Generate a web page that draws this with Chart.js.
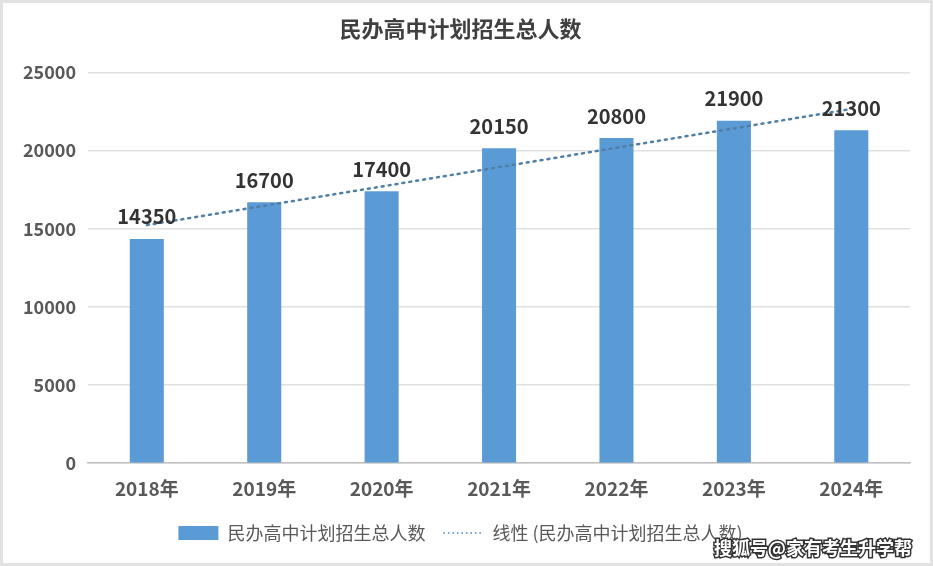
<!DOCTYPE html>
<html>
<head>
<meta charset="utf-8">
<script src="https://cdn.jsdelivr.net/npm/chart.js@4/dist/chart.umd.min.js"></script>
<style>
  html, body { margin: 0; padding: 0; background: #fff; }
  #wrap { width: 933px; height: 566px; box-sizing: border-box; border: 3px solid #e2e2e2; position: relative; }
  canvas { display: block; }
</style>
</head>
<body>
<div id="wrap"><canvas id="myChart" width="927" height="560"></canvas></div>
<script>
const years = ['2018年', '2019年', '2020年', '2021年', '2022年', '2023年', '2024年'];
const enrolment = [14350, 16700, 17400, 20150, 20800, 21900, 21300];
// dotted trend line
const trend = [15230, 16470, 17700, 18940, 20180, 21420, 22660];

const FONT = '"Noto Sans CJK SC", "Noto Sans", sans-serif';

// values above the bars + watermark
const barLabels = {
  id: 'barLabels',
  afterDatasetsDraw(chart) {
    const ctx = chart.ctx;
    const meta = chart.getDatasetMeta(0);
    ctx.save();
    ctx.font = 'bold 20px ' + FONT;
    ctx.fillStyle = '#333';
    ctx.textAlign = 'center';
    ctx.textBaseline = 'bottom';
    meta.data.forEach(function (bar, i) {
      ctx.fillText(enrolment[i], bar.x, bar.y - 12);
    });
    ctx.restore();
  },
  afterDraw(chart) {
    const ctx = chart.ctx;
    ctx.save();
    ctx.font = 'bold 18px ' + FONT;
    ctx.textAlign = 'right';
    ctx.textBaseline = 'middle';
    ctx.lineWidth = 3;
    ctx.strokeStyle = '#333';
    ctx.strokeText('搜狐号@家有考生升学帮', chart.width - 18, chart.height - 15);
    ctx.fillStyle = '#fff';
    ctx.fillText('搜狐号@家有考生升学帮', chart.width - 18, chart.height - 15);
    ctx.restore();
  }
};

const data = {
  labels: years,
  datasets: [
    {
      type: 'bar',
      label: '民办高中计划招生总人数',
      data: enrolment,
      backgroundColor: '#5B9BD5',
      barPercentage: 0.29,
      categoryPercentage: 1,
      pointStyle: 'rect',
      order: 2
    },
    {
      type: 'line',
      label: '线性 (民办高中计划招生总人数)',
      data: trend,
      borderColor: '#4F7FA6',
      backgroundColor: '#4F7FA6',
      borderWidth: 2.5,
      borderDash: [2, 5],
      borderCapStyle: 'round',
      pointRadius: 0,
      pointStyle: 'line',
      fill: false,
      order: 1
    }
  ]
};

const config = {
  data: data,
  options: {
    responsive: false,
    animation: false,
    layout: { padding: { left: 8, right: 20, top: 4, bottom: 11 } },
    plugins: {
      title: {
        display: true,
        text: '民办高中计划招生总人数',
        color: '#404040',
        font: { family: FONT, size: 22, weight: 'bold' },
        padding: { top: 8, bottom: 31 }
      },
      legend: {
        position: 'bottom',
        labels: {
          color: '#595959',
          font: { family: FONT, size: 18 },
          usePointStyle: true,
          pointStyleWidth: 40,
          boxHeight: 14,
          padding: 18,
          sort: function (a, b) { return a.datasetIndex - b.datasetIndex; },
          generateLabels: function (chart) {
            const items = Chart.defaults.plugins.legend.labels.generateLabels(chart);
            items.forEach(function (it) {
              if (it.datasetIndex === 1) {
                it.strokeStyle = '#6FA3D3';
                it.lineWidth = 2;
                it.lineDash = [1.5, 3];
                it.lineCap = 'butt';
              }
            });
            return items;
          }
        }
      },
      tooltip: { enabled: false }
    },
    scales: {
      x: {
        grid: { display: false },
        border: { color: '#bfbfbf', width: 1.5 },
        ticks: {
          color: '#595959',
          font: { family: FONT, size: 19, weight: 'bold' },
          padding: 6
        }
      },
      y: {
        min: 0,
        max: 25000,
        ticks: {
          stepSize: 5000,
          color: '#595959',
          font: { family: FONT, size: 18, weight: 'bold' },
          padding: 12,
          callback: function (v) { return String(v); }
        },
        grid: { color: '#e0e0e0', lineWidth: 1.5, drawTicks: false },
        border: { display: false }
      }
    }
  },
  plugins: [barLabels]
};

var myChart = new Chart(document.getElementById('myChart'), config);
</script>
</body>
</html>
